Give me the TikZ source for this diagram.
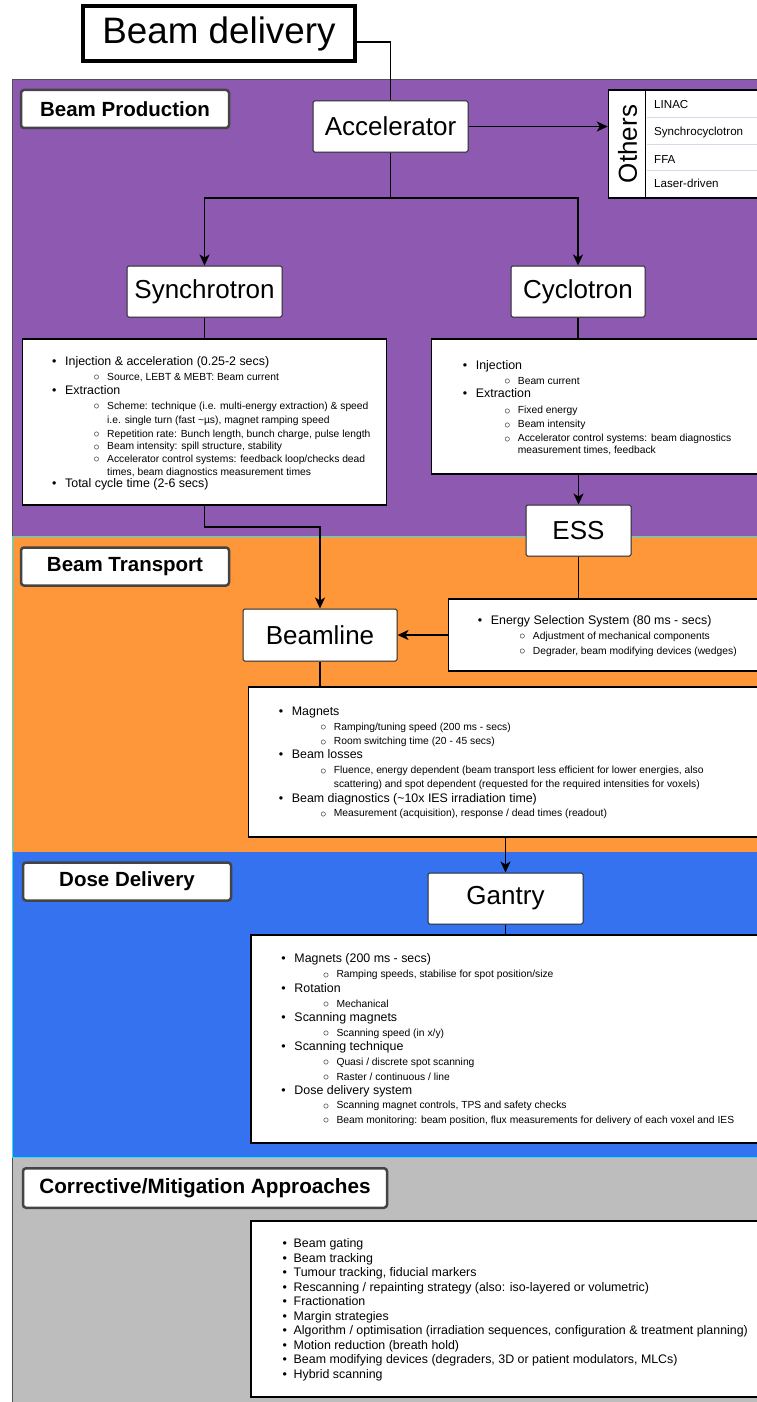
\documentclass[tikz,border=0pt]{standalone}
\usepackage{fontspec}
\setmainfont{Liberation Sans}
\usetikzlibrary{arrows.meta}

\definecolor{prodpurple}{RGB}{141,89,177}
\definecolor{transorange}{RGB}{253,151,58}
\definecolor{doseblue}{RGB}{53,114,239}
\definecolor{corrgray}{RGB}{190,189,190}
\definecolor{edgecyan}{RGB}{40,228,240}
\definecolor{edgegray}{RGB}{80,80,80}
\definecolor{headgray}{RGB}{68,68,68}
\definecolor{rowline}{RGB}{222,214,232}

\newcommand\subbul{\raisebox{-0.2pt}{\fontsize{12.5}{12.5}\selectfont$\circ$}}

\begin{document}
\begin{tikzpicture}[x=1pt,y=-1pt,
  titlebox/.style={draw=black!85, line width=1pt, fill=white, rounded corners=1.5pt,
    inner sep=0pt, font=\fontsize{26}{31}\selectfont},
  header/.style={draw=headgray, line width=2.5pt, fill=white, rounded corners=3pt,
    inner sep=0pt, minimum width=208, minimum height=38,
    font=\bfseries\fontsize{20.5}{24}\selectfont},
  detail/.style={draw=black, line width=1.8pt, fill=white, inner sep=0pt},
  conn/.style={draw=black, line width=1.7pt},
  arr/.style={conn, -{Stealth[length=11pt,width=10pt,inset=3pt]}},
  mline/.style={anchor=mid west, inner sep=0pt, yshift=-2pt, font=\fontsize{12.4}{14}\selectfont,
    execute at begin node={\llap{\textbullet\hspace{8.7pt}}}},
  sline/.style={anchor=mid west, inner sep=0pt, xshift=42pt, yshift=-2pt, font=\fontsize{10.3}{12}\selectfont,
    execute at begin node={\llap{\subbul\hspace{7.5pt}}}},
  cline/.style={anchor=mid west, inner sep=0pt, xshift=42pt, yshift=-2pt, font=\fontsize{10.3}{12}\selectfont},
  kline/.style={anchor=mid west, inner sep=0pt, yshift=-2pt, font=\fontsize{12.4}{14}\selectfont,
    execute at begin node={\llap{\textbullet\hspace{6.7pt}}}},
  rowtext/.style={anchor=mid west, inner sep=0pt, yshift=-1pt, font=\fontsize{11.6}{14}\selectfont}]

\useasboundingbox (0,0) rectangle (757,1402);
\clip (0,0) rectangle (757,1402);

% section bands
\fill[prodpurple]  (12.5,79.5)  rectangle (770,535.5);
\fill[transorange] (12.5,535.5) rectangle (770,852);
\fill[doseblue]    (12.5,852)   rectangle (770,1157.5);
\fill[corrgray]    (12.5,1157.5) rectangle (770,1410);
\draw[edgegray, line width=1.2pt] (12.5,535.5) -- (12.5,79.5) -- (770,79.5);
\draw[edgecyan, line width=1.6pt] (12.5,852) -- (12.5,536.3) -- (770,536.3);
\draw[edgecyan, line width=1.6pt] (12.5,852) -- (12.5,1157.5) -- (770,1157.5);
\draw[edgegray, line width=1.2pt] (12.5,1158.3) -- (12.5,1410);

% section headers
\node[header] (hprod)  at (125,109)   {Beam Production};
\node[header] (htrans) at (125,566.5) {Beam Transport};
\node[header] (hdose)  at (127,881.5) {Dose Delivery};
\node[header, minimum width=364, minimum height=39.5,
      font=\bfseries\fontsize{20.7}{24}\selectfont] (hcorr) at (205,1188) {Corrective/Mitigation Approaches};

% main chain of boxes
\node[draw=black, line width=3.5pt, fill=white, inner sep=0pt, minimum width=272, minimum height=55,
      font=\fontsize{36.8}{40}\selectfont] (bd) at (219,33.5) {Beam delivery};
\node[titlebox, minimum width=155, minimum height=51] (acc) at (390.5,126.5) {Accelerator};
\node[titlebox, minimum width=155, minimum height=51] (syn) at (204.5,291.5) {Synchrotron};
\node[titlebox, minimum width=134, minimum height=51] (cyc) at (578,291.5) {Cyclotron};
\node[titlebox, minimum width=105, minimum height=51] (ess) at (578.5,530.5) {ESS};
\node[titlebox, minimum width=154, minimum height=52] (bl)  at (320,635) {Beamline};
\node[titlebox, minimum width=155, minimum height=51] (gan) at (505.5,898.5) {Gantry};

% list of other accelerator types
\node[draw=black, line width=1.5pt, fill=white, inner sep=0pt, minimum width=200, minimum height=108] (oth) at (708.5,144) {};
\draw[black, line width=1.3pt] ([xshift=37.5pt]oth.north west) -- ([xshift=37.5pt]oth.south west);
\foreach \yy in {117.3,144,170.7}
  \draw[rowline, line width=0.9pt] (646.5,\yy) -- (770,\yy);
\node[rotate=90, inner sep=0pt, font=\fontsize{26}{30}\selectfont] (othlbl) at (627.5,144) {Others};
\node[rowtext] (linac) at (654,104.5) {LINAC};
\node[rowtext] (sync)  at (654,132)   {Synchrocyclotron};
\node[rowtext] (ffa)   at (654,159.5) {FFA};
\node[rowtext] (laser) at (654,183.5) {Laser-driven};

% detail boxes
\node[detail, minimum width=364, minimum height=166] (synd)  at (204.5,422) {};
\node[detail, minimum width=370, minimum height=135] (cycd)  at (616.5,406.5) {};
\node[detail, minimum width=352, minimum height=72]  (essd)  at (624.5,635) {};
\node[detail, minimum width=552, minimum height=150] (bld)   at (524.5,762) {};
\node[detail, minimum width=549, minimum height=208] (gand)  at (525.5,1039) {};
\node[detail, minimum width=549, minimum height=176] (corrd) at (525.5,1309) {};

% connectors
\coordinate (split) at (390.5,198);
\draw[black, line width=1.3pt] ([yshift=-8.5pt]bd.east) -| (acc.north);
\draw[arr] (acc.east) -- (acc.east -| oth.west);
\draw[conn] (acc.south) -- (split);
\draw[arr] (split) -| (syn.north);
\draw[arr] (split) -| (cyc.north);
\draw[conn] (syn.south) -- (synd.north);
\draw[arr] (synd.south) -- ++(0,21) -| (bl.north);
\draw[conn] (cyc.south) -- (cyc.south |- cycd.north);
\draw[arr] (cycd.south -| ess.north) -- (ess.north);
\draw[conn] (ess.south) -- (ess.south |- essd.north);
\draw[arr] (essd.west) -- (essd.west -| bl.east);
\draw[conn] (bl.south) -- (bl.south |- bld.north);
\draw[arr] (bld.south -| gan.north) -- (gan.north);
\draw[conn] (gan.south) -- (gan.south |- gand.north);

% synchrotron details
\foreach \st/\yy/\tx [count=\n] in {
  mline/360.7/{Injection \& acceleration (0.25-2 secs)},
  sline/375.7/{Source, LEBT \& MEBT: Beam current},
  mline/390/{Extraction},
  sline/405/{Scheme: technique (i.e. multi-energy extraction) \& speed},
  cline/419.3/{i.e. single turn (fast \textasciitilde{}µs), magnet ramping speed},
  sline/432.7/{Repetition rate: Bunch length, bunch charge, pulse length},
  sline/445.3/{Beam intensity: spill structure, stability},
  sline/458/{Accelerator control systems: feedback loop/checks dead},
  cline/470.5/{times, beam diagnostics measurement times},
  mline/483.3/{Total cycle time (2-6 secs)}}
  \node[\st, name=synt-\n] at (65,\yy) {\tx};

% cyclotron details
\foreach \st/\yy/\tx [count=\n] in {
  mline/365/{Injection},
  sline/380/{Beam current},
  mline/393.3/{Extraction},
  sline/409.3/{Fixed energy},
  sline/423.3/{Beam intensity},
  sline/437.3/{Accelerator control systems: beam diagnostics},
  cline/449/{measurement times, feedback}}
  \node[\st, name=cyct-\n] at (475.7,\yy) {\tx};

% energy selection system details
\foreach \st/\yy/\tx [count=\n] in {
  mline/620/{Energy Selection System (80 ms - secs)},
  sline/635/{Adjustment of mechanical components},
  sline/650/{Degrader, beam modifying devices (wedges)}}
  \node[\st, name=esst-\n] at (490.7,\yy) {\tx};

% beamline details
\foreach \st/\yy/\tx [count=\n] in {
  mline/710.7/{Magnets},
  sline/725.7/{Ramping/tuning speed (200 ms - secs)},
  sline/740.3/{Room switching time (20 - 45 secs)},
  mline/754/{Beam losses},
  sline/769.3/{Fluence, energy dependent (beam transport less efficient for lower energies, also},
  cline/783.3/{scattering) and spot dependent (requested for the required intensities for voxels)},
  mline/798/{Beam diagnostics (\textasciitilde{}10x IES irradiation time)},
  sline/812.3/{Measurement (acquisition), response / dead times (readout)}}
  \node[\st, name=blt-\n] at (291.7,\yy) {\tx};

% gantry details
\foreach \st/\yy/\tx [count=\n] in {
  mline/958.3/{Magnets (200 ms - secs)},
  sline/973.3/{Ramping speeds, stabilise for spot position/size},
  mline/987.7/{Rotation},
  sline/1002.7/{Mechanical},
  mline/1017.3/{Scanning magnets},
  sline/1031.7/{Scanning speed (in x/y)},
  mline/1046/{Scanning technique},
  sline/1061/{Quasi / discrete spot scanning},
  sline/1075.7/{Raster / continuous / line},
  mline/1089.7/{Dose delivery system},
  sline/1104.3/{Scanning magnet controls, TPS and safety checks},
  sline/1118.7/{Beam monitoring: beam position, flux measurements for delivery of each voxel and IES}}
  \node[\st, name=gant-\n] at (294.3,\yy) {\tx};

% corrective / mitigation approaches
\foreach \yy/\tx [count=\n] in {
  1243.3/{Beam gating},
  1257.7/{Beam tracking},
  1272/{Tumour tracking, fiducial markers},
  1286.7/{Rescanning / repainting strategy (also: iso-layered or volumetric)},
  1301.3/{Fractionation},
  1315.7/{Margin strategies},
  1330/{Algorithm / optimisation (irradiation sequences, configuration \& treatment planning)},
  1344.7/{Motion reduction (breath hold)},
  1359/{Beam modifying devices (degraders, 3D or patient modulators, MLCs)},
  1373.7/{Hybrid scanning}}
  \node[kline, name=corrt-\n] at (293.5,\yy) {\tx};

\end{tikzpicture}
\end{document}
